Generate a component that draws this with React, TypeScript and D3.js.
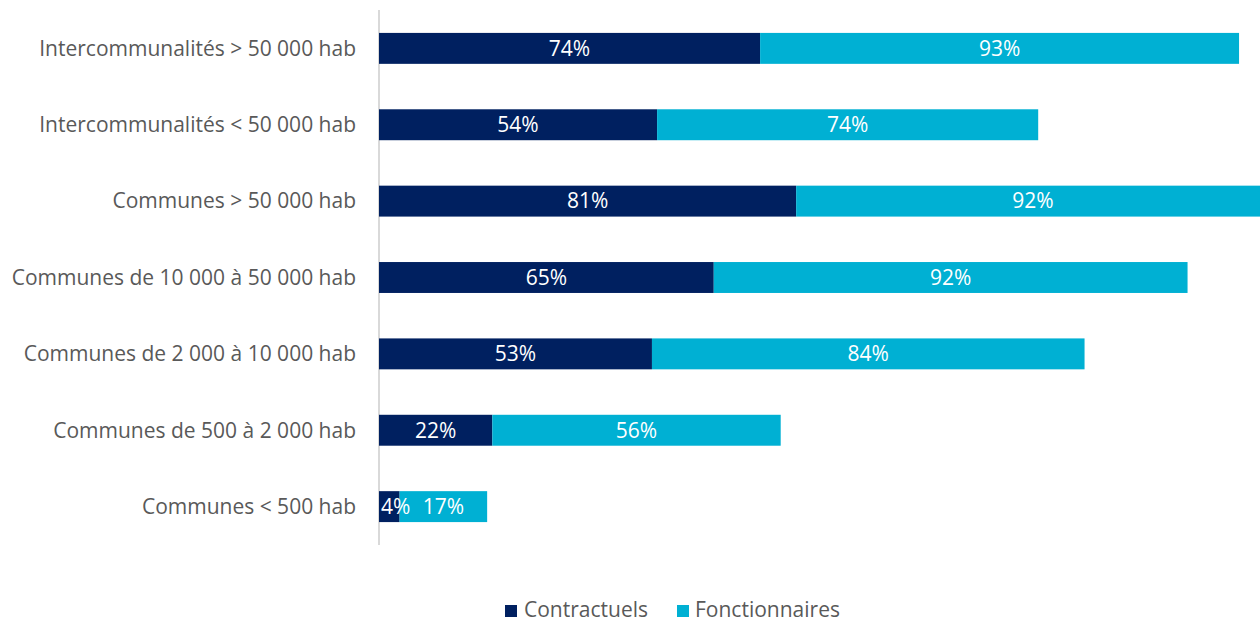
import React from "react";
import * as d3 from "d3";

const categories = [
  "Intercommunalités > 50 000 hab",
  "Intercommunalités < 50 000 hab",
  "Communes > 50 000 hab",
  "Communes de 10 000 à 50 000 hab",
  "Communes de 2 000 à 10 000 hab",
  "Communes de 500 à 2 000 hab",
  "Communes < 500 hab",
];
const contractuels = [74, 54, 81, 65, 53, 22, 4];
const fonctionnaires = [93, 74, 92, 92, 84, 56, 17];
const seriesNames = ["Contractuels", "Fonctionnaires"];
const colors = ["#002060", "#00B0D3"];

const W = 1260;
const H = 623;
const FONT = "'Open Sans', sans-serif";

export default function App() {
  const x0 = 379;
  const x = d3.scaleLinear().domain([0, 100]).range([x0, x0 + 515]);
  const y = d3
    .scaleBand<string>()
    .domain(categories)
    .range([10, 545])
    .paddingInner(0.595)
    .paddingOuter(0.3);

  const stackData = categories.map((c, i) => ({
    cat: c,
    Contractuels: contractuels[i],
    Fonctionnaires: fonctionnaires[i],
  }));
  const stack = d3.stack<any>().keys(seriesNames)(stackData);

  return (
    <svg
      width={W}
      height={H}
      style={{ position: "absolute", left: 0, top: 0, background: "#fff" }}
      fontFamily={FONT}
    >
      <line x1={x0} x2={x0} y1={10} y2={545} stroke="#D9D9D9" strokeWidth={2} />
      {stack.map((s, si) =>
        s.map((d, i) => {
          const yy = y(categories[i])!;
          const xa = x(d[0]);
          const xb = x(d[1]);
          return (
            <rect key={`r${si}-${i}`} x={xa} y={yy} width={xb - xa} height={y.bandwidth()} fill={colors[si]} />
          );
        })
      )}
      {stack.map((s, si) =>
        s.map((d, i) => {
          const yy = y(categories[i])!;
          const xa = x(d[0]);
          const xb = x(d[1]);
          const w = xb - xa;
          return (
            <text
              key={`t${si}-${i}`}
              x={w < 30 ? xa + 2 : (xa + xb) / 2}
              y={yy + y.bandwidth() / 2}
              dy="0.35em"
              textAnchor={w < 30 ? "start" : "middle"}
              fill="#fff"
              fontSize={21}
            >
              {`${d[1] - d[0]}%`}
            </text>
          );
        })
      )}
      {categories.map((c) => (
        <text
          key={c}
          x={356}
          y={y(c)! + y.bandwidth() / 2}
          dy="0.35em"
          textAnchor="end"
          fill="#595959"
          fontSize={21}
        >
          {c}
        </text>
      ))}
      <g>
        <rect x={505} y={605} width={12} height={12} fill={colors[0]} />
        <text x={524} y={616.5} fill="#595959" fontSize={21}>
          {seriesNames[0]}
        </text>
        <rect x={677} y={605} width={12} height={12} fill={colors[1]} />
        <text x={695} y={616.5} fill="#595959" fontSize={21}>
          {seriesNames[1]}
        </text>
      </g>
    </svg>
  );
}
